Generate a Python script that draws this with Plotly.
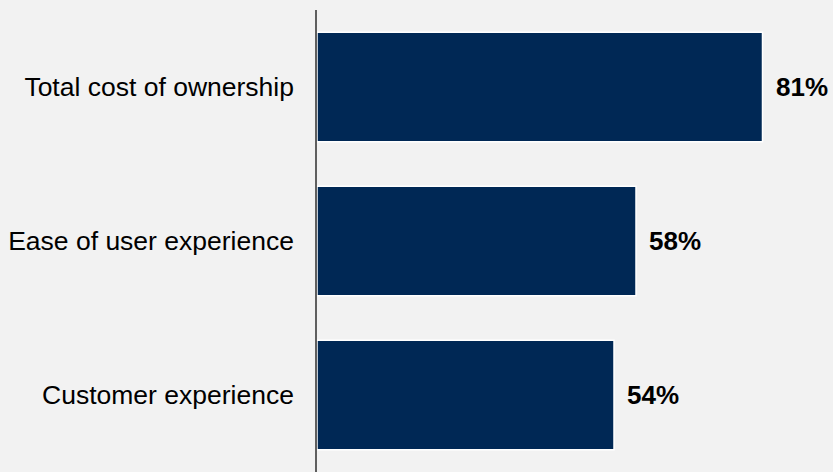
import plotly.graph_objects as go

categories = ["Total cost of ownership", "Ease of user experience", "Customer experience"]
values = [81, 58, 54]
labels = ["81%", "58%", "54%"]

fig = go.Figure()
fig.add_trace(go.Bar(
    y=categories, x=values, orientation="h",
    marker=dict(color="#002855", line=dict(color="#ffffff", width=1.5)),
    width=0.71, hoverinfo="skip",
))
for c, v, t in zip(categories, values, labels):
    fig.add_annotation(x=v, y=c, text="<b>%s</b>" % t, showarrow=False,
                       xanchor="left", xshift=11,
                       font=dict(family="Liberation Sans, Arial", size=26, color="#000000"))

fig.update_layout(
    width=833, height=472,
    margin=dict(l=317, r=21, t=10, b=0),
    paper_bgcolor="#f2f2f2", plot_bgcolor="#f2f2f2",
    showlegend=False,
    font=dict(family="Liberation Sans, Arial", size=26, color="#000000"),
)
fig.update_xaxes(range=[0, 90], visible=False, showgrid=False, zeroline=False)
fig.update_yaxes(autorange="reversed", showline=True, linecolor="#5f5f5f", linewidth=1.5,
                 showgrid=False, ticks="", ticklabelstandoff=16,
                 tickfont=dict(size=26.5, color="#000000"))

fig.write_html("out.html", config={"displayModeBar": False},
               post_script="document.body.style.margin='0';document.body.style.background='#f2f2f2';")
